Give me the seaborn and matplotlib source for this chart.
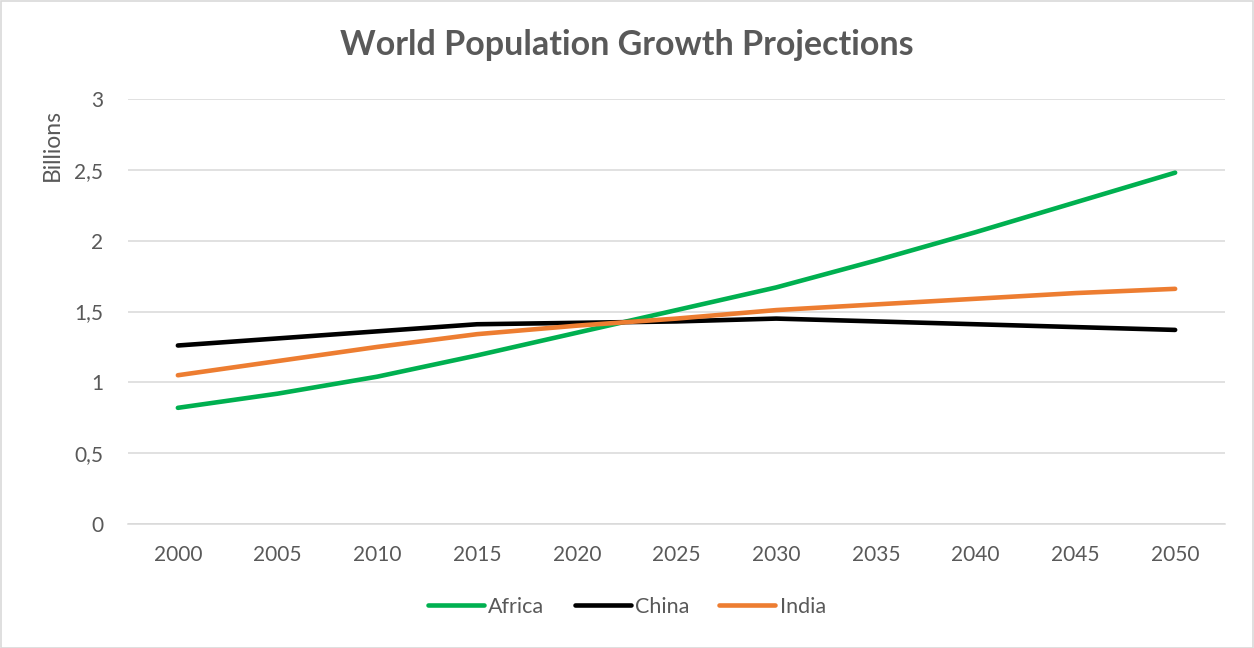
import matplotlib
matplotlib.use("Agg")
import matplotlib.pyplot as plt
import matplotlib.patches as mpatches
import seaborn as sns
import pandas as pd

# Population projections, billions of people
years = ["2000", "2005", "2010", "2015", "2020", "2025", "2030", "2035", "2040", "2045", "2050"]
africa = [0.82, 0.92, 1.04, 1.19, 1.35, 1.51, 1.67, 1.86, 2.06, 2.27, 2.48]
china = [1.26, 1.31, 1.36, 1.41, 1.42, 1.43, 1.45, 1.43, 1.41, 1.39, 1.37]
india = [1.05, 1.15, 1.25, 1.34, 1.40, 1.45, 1.51, 1.55, 1.59, 1.63, 1.66]
regions = ["Africa", "China", "India"]
colors = ["#00B050", "#000000", "#ED7D31"]
y_ticks = [0, 0.5, 1, 1.5, 2, 2.5, 3]
y_tick_labels = ["0", "0,5", "1", "1,5", "2", "2,5", "3"]

df = pd.DataFrame({
    "year": years * 3,
    "pos": list(range(len(years))) * 3,
    "value": africa + china + india,
    "region": [r for r in regions for _ in years],
})

sns.set_theme(style="white")
plt.rcParams["font.family"] = ["Lato", "DejaVu Sans"]
text_grey = "#595959"

W, H = 1254, 648
fig = plt.figure(figsize=(W / 100, H / 100), dpi=100)
ax = fig.add_axes([128 / W, (H - 524) / H, (1225 - 128) / W, (524 - 99) / H])

sns.lineplot(data=df, x="pos", y="value", hue="region", hue_order=regions,
             palette=colors, linewidth=3.3, ax=ax, legend=False,
             solid_capstyle="round", sort=False)

ax.set_xlim(-0.5, len(years) - 0.5)
ax.set_ylim(0, 3)
ax.set_xticks(range(len(years)))
ax.set_xticklabels(years)
ax.set_yticks(y_ticks)
ax.set_yticklabels(y_tick_labels)
ax.yaxis.grid(True, color="#D9D9D9", linewidth=1.1)
ax.set_axisbelow(True)
for s in ["top", "right", "left"]:
    ax.spines[s].set_visible(False)
ax.spines["bottom"].set_color("#D9D9D9")
ax.spines["bottom"].set_linewidth(1.1)
ax.tick_params(axis="both", length=0, labelsize=15, colors=text_grey)
ax.tick_params(axis="x", pad=15)
ax.tick_params(axis="y", pad=18)
ax.set_xlabel("")
ax.set_ylabel("")

fig.text(627 / W, 1 - 45 / H, "World Population Growth Projections",
         ha="center", va="center", fontsize=24.5, fontweight="bold", color=text_grey)
fig.text(52 / W, 1 - 145 / H, "Billions", rotation=90, ha="center", va="center",
         fontsize=16.5, color=text_grey)

handles = [plt.Line2D([0], [0], color=c, linewidth=3.3, solid_capstyle="round") for c in colors]
leg = fig.legend(handles, regions, loc="center", bbox_to_anchor=(0.5, 1 - 607 / H),
                 ncol=3, frameon=False, fontsize=15.5, handlelength=2.6,
                 handletextpad=0.2, columnspacing=1.4)
for t in leg.get_texts():
    t.set_color(text_grey)

# thin outer chart border
fig.patches.append(mpatches.Rectangle((0.5 / W, 0.5 / H), 1 - 1.5 / W, 1 - 1.5 / H,
                                      transform=fig.transFigure, fill=False,
                                      edgecolor="#D9D9D9", linewidth=1.2))

fig.savefig("out.png", dpi=100, facecolor="white")
